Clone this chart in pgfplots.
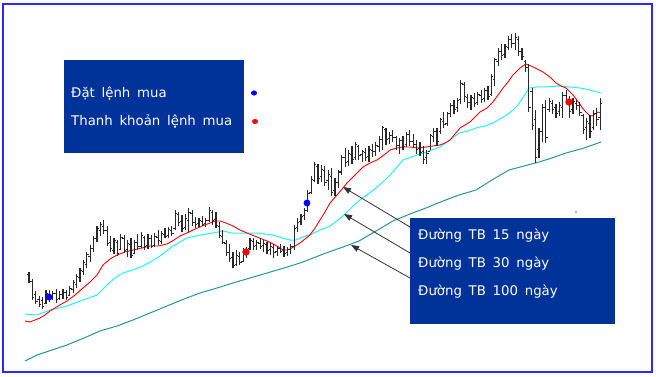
\documentclass[border=0pt]{standalone}
\usepackage{pgfplots}
\pgfplotsset{compat=1.18}
\usepackage{pgfplotstable}
\usepackage{fontspec}
\setmainfont{DejaVu Sans}[WordSpace=1.6]
\usetikzlibrary{arrows.meta}
\definecolor{boxblue}{RGB}{0,51,153}
\definecolor{frameblue}{RGB}{40,40,255}
\definecolor{macyan}{RGB}{30,245,250}
\definecolor{mateal}{RGB}{40,150,150}
\definecolor{barcol}{RGB}{40,40,40}
\pgfdeclareplotmark{otick}{\pgfpathmoveto{\pgfqpoint{-1.8pt}{0pt}}\pgfpathlineto{\pgfqpoint{0pt}{0pt}}\pgfusepathqstroke}
\pgfdeclareplotmark{ctick}{\pgfpathmoveto{\pgfqpoint{0pt}{0pt}}\pgfpathlineto{\pgfqpoint{1.8pt}{0pt}}\pgfusepathqstroke}
% price bars (pixel coordinates, y from top): x, high(top), low(bot), open, close
\pgfplotstableread{
x top bot op cl
29.0 272 283 274 281
32.4 279 300 281 297
35.8 291 304 294 301
39.2 296 307 299 304
42.6 297 309 300 306
46.0 290 304 303 293
49.4 290 302 294 298
52.8 291 300 297 293
56.2 289 303 293 299
59.6 291 300 298 294
63.0 289 299 294 292
66.4 290 300 292 297
69.8 286 296 295 288
73.2 280 293 289 282
76.6 274 288 284 276
80.0 268 282 277 270
83.4 260 275 271 262
86.8 252 268 264 254
90.2 245 262 256 248
93.6 236 252 248 238
97.0 226 242 238 228
100.4 222 236 230 224
103.8 220 234 226 230
107.2 226 246 230 243
110.6 236 252 242 248
114.0 238 254 250 240
117.4 240 256 242 253
120.8 234 250 249 237
124.2 235 253 238 250
127.6 240 257 249 243
131.0 238 258 244 255
134.4 240 254 253 242
137.8 234 250 242 246
141.2 232 248 246 235
144.6 236 250 237 246
148.0 234 249 245 238
151.4 235 248 238 246
154.8 233 247 245 236
158.2 230 245 237 240
161.6 231 244 241 233
165.0 228 238 234 236
168.4 227 238 235 229
171.8 226 236 230 233
175.2 210 230 228 213
178.6 212 226 214 222
182.0 215 232 221 228
185.4 214 230 227 218
188.8 208 232 220 212
192.2 210 226 213 222
195.6 217 228 222 224
199.0 218 227 223 220
202.4 216 226 221 224
205.8 218 227 223 220
209.2 207 222 220 210
212.6 210 225 212 220
216.0 212 228 219 225
219.4 222 238 226 235
222.8 230 244 236 242
226.2 240 256 243 252
229.6 244 262 252 258
233.0 252 268 257 265
236.4 250 266 264 255
239.8 252 265 256 262
243.2 248 262 261 252
246.6 247 258 253 249
250.0 238 250 248 240
253.4 238 250 241 246
256.8 240 250 245 242
260.2 238 249 243 246
263.6 240 252 245 243
267.0 242 254 244 250
270.4 243 255 249 246
273.8 244 258 247 252
277.2 246 256 251 248
280.6 244 253 248 251
284.0 246 257 250 253
287.4 247 256 252 249
290.8 244 254 249 246
294.2 225 250 246 228
297.6 218 232 227 222
301.0 214 225 221 216
304.4 208 220 215 210
307.8 190 212 210 193
311.2 176 194 192 179
314.6 162 182 180 165
318.0 164 184 167 178
321.4 165 182 176 170
324.8 166 186 171 182
328.2 170 190 180 174
331.6 168 196 176 192
335.0 178 196 190 182
338.4 170 188 182 172
341.8 155 175 172 158
345.2 148 167 158 163
348.6 150 166 162 154
352.0 146 164 155 160
355.4 142 160 158 145
358.8 145 160 147 156
362.2 150 162 155 152
365.6 148 161 153 158
369.0 146 162 157 150
372.4 144 157 151 152
375.8 142 156 152 146
379.2 136 152 147 140
382.6 126 150 140 128
386.0 128 145 130 140
389.4 132 144 139 136
392.8 130 142 136 138
396.2 136 150 138 146
399.6 138 154 146 141
403.0 136 150 141 147
406.4 132 147 145 135
409.8 130 146 135 142
413.2 134 148 142 145
416.6 140 154 145 150
420.0 142 156 149 153
423.4 146 164 152 160
426.8 150 164 158 154
430.2 134 150 152 136
433.6 128 142 137 132
437.0 128 146 132 142
440.4 118 134 132 120
443.8 112 128 122 125
447.2 112 126 124 114
450.6 103 117 114 106
454.0 100 114 106 110
457.4 98 112 108 101
460.8 80 104 100 84
464.2 82 102 85 97
467.6 94 108 98 103
471.0 95 110 103 98
474.4 93 107 99 104
477.8 92 105 103 95
481.2 90 103 96 100
484.6 88 102 99 91
488.0 86 100 91 97
491.4 74 96 95 77
494.8 58 86 80 60
498.2 48 66 62 52
501.6 44 60 52 56
505.0 44 58 55 47
508.4 36 50 48 40
511.8 34 48 40 44
515.2 33 50 44 38
518.6 36 56 40 52
522.0 48 60 52 57
525.4 60 72 62 68
528.8 64 112 68 108
532.2 88 130 92 126
535.6 110 163 120 158
539.0 128 158 150 132
542.4 104 142 132 108
545.8 100 143 108 138
549.2 98 112 110 102
552.6 100 114 104 110
556.0 104 118 108 114
559.4 102 116 112 106
562.8 92 118 108 96
566.2 90 104 96 100
569.6 96 118 100 112
573.0 98 114 110 102
576.4 100 110 104 106
579.8 102 116 106 113
583.2 114 134 116 130
586.6 118 140 128 122
590.0 115 138 124 132
593.4 110 130 128 114
596.8 108 126 114 120
600.2 98 130 118 104
}\bars
\begin{document}
\begin{tikzpicture}
\begin{axis}[
  width=656pt, height=377pt, scale only axis,
  xmin=0, xmax=656, ymin=0, ymax=377, y dir=reverse,
  hide axis, clip=false]
% frame
\draw[frameblue, line width=1.6pt] (axis cs:3,4) rectangle (axis cs:652,372);
% moving averages
\addplot[mateal, line width=1pt] coordinates {
(25,361) (37,355) (52,350) (67,345) (84,338) (100,331) (117,326) (133,320) (150,313) (167,306) (184,299) (200,293) (217,288) (233,283) (250,278) (267,273) (284,268) (300,263) (313,258) (326,253) (343,247) (359,241) (376,231) (393,221) (410,214) (426,208) (443,201) (459,195) (476,190) (492,180) (509,170) (524,166) (539,162) (552,158) (566,153) (584,148) (601,142)};
\addplot[macyan, line width=1pt] coordinates {
(25,314) (37,315) (50,310) (67,306) (83,300) (97,295) (107,285) (115,278) (123,273) (133,270) (143,266) (152,261) (160,256) (173,246) (187,238) (200,235) (213,233) (223,231) (232,233) (240,233) (257,233) (273,235) (282,238) (290,240) (296,240) (303,237) (312,234) (320,230) (330,226) (338,220) (345,214) (352,207) (360,200) (368,194) (376,188) (384,181) (390,175) (397,167) (403,160) (414,156) (426,152) (440,147) (450,140) (459,133) (468,131) (476,128) (485,126) (493,123) (505,116) (513,110) (518,105) (521,100) (526,93) (529,88) (537,87) (545,87) (559,86) (570,87) (580,88) (590,90) (601,93)};
\addplot[red, line width=0.9pt] coordinates {
(25,321) (30,322) (35,320) (40,318) (45,315) (50,311) (58,306) (67,301) (75,295) (83,288) (90,282) (97,275) (103,265) (110,259) (117,255) (125,252) (133,250) (142,248) (150,246) (158,246) (167,244) (174,240) (180,236) (187,233) (193,230) (202,226) (210,223) (215,221) (220,221) (226,223) (233,226) (240,230) (247,233) (257,237) (267,241) (275,245) (283,250) (287,250) (290,249) (295,246) (300,243) (305,239) (310,235) (315,228) (320,220) (325,212) (330,203) (337,195) (343,188) (347,183) (355,175) (363,167) (370,163) (377,160) (384,155) (390,150) (397,148) (403,147) (410,147) (418,148) (426,147) (433,146) (440,145) (445,143) (450,140) (455,134) (460,128) (465,125) (470,122) (475,117) (480,112) (487,108) (493,102) (498,95) (503,88) (508,82) (513,75) (517,71) (520,68) (526,64) (531,66) (535,68) (543,72) (550,77) (556,83) (561,86) (566,88) (573,95) (579,103) (584,110) (589,115) (592,116) (595,114) (598,112) (601,113)};
% price bars
\addplot[draw=none, mark=none,
  error bars/.cd, y dir=plus, y explicit, error mark=none,
  error bar style={draw=barcol, line width=1.1pt}]
  table[x=x, y=top, y error plus expr=\thisrow{bot}-\thisrow{top}] {\bars};
\addplot[barcol, only marks, mark=otick, mark options={line width=1pt}] table[x=x, y=op] {\bars};
\addplot[barcol, only marks, mark=ctick, mark options={line width=1pt}] table[x=x, y=cl] {\bars};
% signal dots
\addplot[only marks, mark=*, mark size=3.2pt, blue, mark options={draw=blue, fill=blue}] coordinates {(49,297) (307,203)};
\addplot[only marks, mark=*, mark size=3.4pt, red, mark options={draw=red, fill=red}] coordinates {(246,252) (569,102)};
\addplot[only marks, mark=*, mark size=0.6pt, gray] coordinates {(576,212)};
% box 1
\fill[boxblue] (axis cs:64,60) rectangle (axis cs:244,153);
\node[anchor=base west, text=white, inner sep=0pt, font=\fontsize{13.3}{15}\selectfont] at (axis cs:71,97.5) {Đặt lệnh mua};
\node[anchor=base west, text=white, inner sep=0pt, font=\fontsize{13.3}{15}\selectfont] at (axis cs:71,126) {Thanh khoản lệnh mua};
\addplot[only marks, mark=*, mark size=2.3pt, blue, mark options={draw=blue, fill=blue, xscale=1.2}] coordinates {(254,93)};
\addplot[only marks, mark=*, mark size=2.3pt, red, mark options={draw=red, fill=red, xscale=1.2}] coordinates {(255,121.5)};
% box 2
\fill[boxblue] (axis cs:410,218) rectangle (axis cs:615,324);
\node[anchor=base west, text=white, inner sep=0pt, font=\fontsize{13.3}{15}\selectfont] at (axis cs:418,239) {Đường TB 15 ngày};
\node[anchor=base west, text=white, inner sep=0pt, font=\fontsize{13.3}{15}\selectfont] at (axis cs:418,267) {Đường TB 30 ngày};
\node[anchor=base west, text=white, inner sep=0pt, font=\fontsize{13.3}{15}\selectfont] at (axis cs:418,295) {Đường TB 100 ngày};
% arrows
\draw[black!80, line width=0.8pt, -{Triangle[length=8pt,width=6pt]}] (axis cs:410,227) -- (axis cs:343,187);
\draw[black!80, line width=0.8pt, -{Triangle[length=8pt,width=6pt]}] (axis cs:410,253) -- (axis cs:344,214);
\draw[black!80, line width=0.8pt, -{Triangle[length=8pt,width=6pt]}] (axis cs:410,278) -- (axis cs:351,245);
\end{axis}
\pgfresetboundingbox
\path[use as bounding box] (current axis.south west) rectangle (current axis.north east);
\end{tikzpicture}
\end{document}
